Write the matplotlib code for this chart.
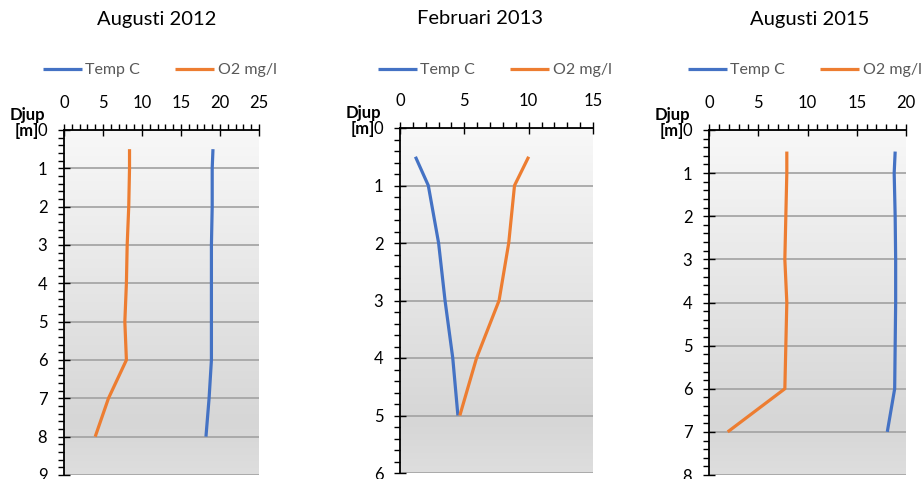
import numpy as np
import matplotlib.pyplot as plt
from matplotlib.colors import LinearSegmentedColormap
from matplotlib.ticker import MultipleLocator

plt.rcParams['font.family'] = ['Lato', 'DejaVu Sans']

# Data
titles = ['Augusti 2012', 'Februari 2013', 'Augusti 2015']

depth_2012 = [0.5, 1, 2, 3, 4, 5, 6, 7, 8]
temp_2012 = [19.1, 19.0, 19.0, 18.9, 18.9, 18.9, 18.9, 18.6, 18.2]
o2_2012 = [8.4, 8.4, 8.3, 8.1, 8.0, 7.8, 8.0, 5.7, 4.0]

depth_2013 = [0.5, 1, 2, 3, 4, 5]
temp_2013 = [1.2, 2.2, 3.0, 3.5, 4.1, 4.5]
o2_2013 = [10.0, 8.9, 8.45, 7.7, 5.95, 4.65]

depth_2015 = [0.5, 1, 2, 3, 4, 5, 6, 7]
temp_2015 = [18.9, 18.8, 18.9, 18.95, 18.95, 18.9, 18.85, 18.1]
o2_2015 = [7.9, 7.9, 7.8, 7.7, 7.9, 7.8, 7.7, 1.9]

xmax = [25, 15, 20]
ymax = [9, 6, 8]

panels = [
    (depth_2012, temp_2012, o2_2012),
    (depth_2013, temp_2013, o2_2013),
    (depth_2015, temp_2015, o2_2015),
]

W, H = 923, 479
fig = plt.figure(figsize=(W / 100, H / 100), dpi=100)

# axes boxes in pixels: left, right, top, bottom
boxes = [(64, 259, 130, 475), (400, 593, 128, 473), (709, 906, 130, 475)]
title_x = [157, 480, 810]
title_y = [20, 18, 20]
legend_x = [43, 378, 688]

grad_cmap = LinearSegmentedColormap.from_list(
    'bg', [(0, '#f8f8f8'), (0.85, '#d6d6d6'), (1.0, '#dedede')])

for i, (dep, temp, o2) in enumerate(panels):
    l, r, t, b = boxes[i]
    ax = fig.add_axes([l / W, 1 - b / H, (r - l) / W, (b - t) / H])

    # gradient background
    grad = np.linspace(0, 1, 256).reshape(-1, 1)
    ax.imshow(grad, cmap=grad_cmap, aspect='auto', extent=[0, 1, 0, 1],
              transform=ax.transAxes, origin='upper', zorder=0)

    ax.plot(temp, dep, color='#4472C4', linewidth=2.3, label='Temp C',
            zorder=3, solid_capstyle='butt')
    ax.plot(o2, dep, color='#ED7D31', linewidth=2.3, label='O2 mg/l',
            zorder=3, solid_capstyle='butt')

    ax.set_xlim(0, xmax[i])
    ax.set_ylim(ymax[i], 0)
    ax.xaxis.tick_top()
    ax.xaxis.set_major_locator(MultipleLocator(5))
    ax.xaxis.set_minor_locator(MultipleLocator(1))
    ax.yaxis.set_major_locator(MultipleLocator(1))
    ax.yaxis.set_minor_locator(MultipleLocator(0.2))

    ax.tick_params(axis='x', which='major', direction='inout', length=8,
                   width=1, pad=10, labelsize=12)
    ax.tick_params(axis='x', which='minor', direction='out', length=4, width=1)
    ax.tick_params(axis='y', which='major', direction='inout', length=8,
                   width=1, pad=8, labelsize=12)
    ax.tick_params(axis='y', which='minor', direction='out', length=4, width=1)

    for s in ['right', 'bottom']:
        ax.spines[s].set_visible(False)
    for s in ['left', 'top']:
        ax.spines[s].set_linewidth(1.3)
        ax.spines[s].set_zorder(4)

    ax.yaxis.grid(True, which='major', color='#a6a6a6', linewidth=1.3, zorder=1)
    ax.set_axisbelow(False)
    for gl in ax.yaxis.get_gridlines():
        gl.set_zorder(1)

    ax.annotate('Djup\n[m]', xy=(0, 1), xycoords='axes fraction',
                xytext=(-37 * 0.72, 5), textcoords='offset points',
                ha='center', va='center', fontsize=12, fontweight='bold',
                linespacing=1.05)

    fig.text(title_x[i] / W, 1 - title_y[i] / H, titles[i], ha='center',
             va='center', fontsize=14.5)

    leg = fig.legend(handles=ax.get_lines(), loc='center left',
                     bbox_to_anchor=(legend_x[i] / W, 1 - 70 / H), ncol=2,
                     frameon=False, fontsize=11.5, handlelength=2.45,
                     handletextpad=0.2, columnspacing=2.2, borderpad=0,
                     borderaxespad=0)
    for txt in leg.get_texts():
        txt.set_color('#595959')

fig.savefig('out.png', dpi=100)
